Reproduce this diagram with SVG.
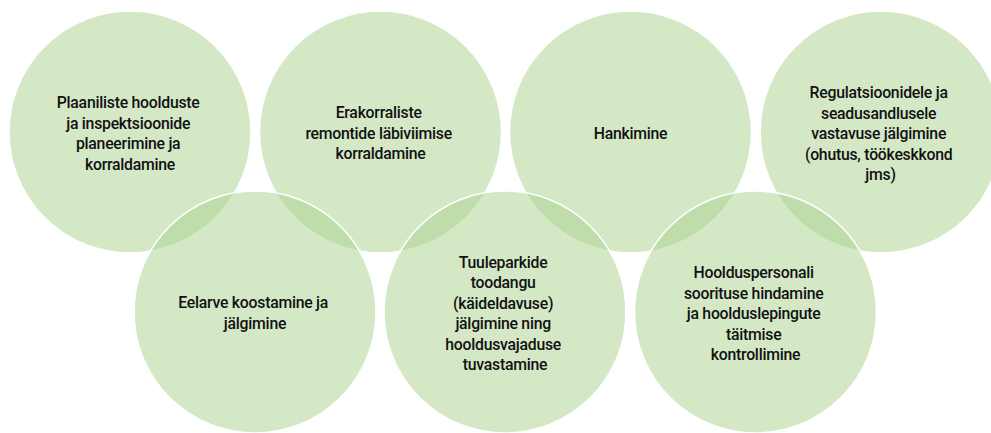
<svg xmlns="http://www.w3.org/2000/svg" width="991" height="433" viewBox="0 0 991 433">
  <style>
    .bubble { fill: #a9d18e; fill-opacity: 0.5; stroke: #ffffff; stroke-width: 1.5; }
    .label { font-family: Roboto, "Liberation Sans", sans-serif; font-weight: 500; font-size: 15.8px; letter-spacing: -0.25px; fill: #111111; text-anchor: middle; }
  </style>
  <rect width="991" height="433" fill="#ffffff"/>

  <!-- upper row -->
  <g id="planning">
    <circle class="bubble" cx="130" cy="132" r="121"/>
    <text class="label">
      <tspan x="130" y="108">Plaaniliste hoolduste</tspan>
      <tspan x="130" y="128.5">ja inspektsioonide</tspan>
      <tspan x="130" y="149">planeerimine ja</tspan>
      <tspan x="130" y="169.5">korraldamine</tspan>
    </text>
  </g>
  <g id="repairs">
    <circle class="bubble" cx="380.5" cy="132" r="121"/>
    <text class="label">
      <tspan x="380.5" y="118">Erakorraliste</tspan>
      <tspan x="380.5" y="138.5">remontide läbiviimise</tspan>
      <tspan x="380.5" y="159">korraldamine</tspan>
    </text>
  </g>
  <g id="procurement">
    <circle class="bubble" cx="630.5" cy="132" r="121"/>
    <text class="label">
      <tspan x="630.5" y="139">Hankimine</tspan>
    </text>
  </g>
  <g id="compliance">
    <circle class="bubble" cx="881" cy="132" r="121"/>
    <text class="label">
      <tspan x="880.5" y="98">Regulatsioonidele ja</tspan>
      <tspan x="880.5" y="118.5">seadusandlusele</tspan>
      <tspan x="880.5" y="139">vastavuse jälgimine</tspan>
      <tspan x="880.5" y="159.5">(ohutus, töökeskkond</tspan>
      <tspan x="880.5" y="180">jms)</tspan>
    </text>
  </g>

  <!-- lower row -->
  <g id="budget">
    <circle class="bubble" cx="255" cy="312" r="121"/>
    <text class="label">
      <tspan x="255" y="308">Eelarve koostamine ja</tspan>
      <tspan x="255" y="328.5">jälgimine</tspan>
    </text>
  </g>
  <g id="production">
    <circle class="bubble" cx="505" cy="312" r="121"/>
    <text class="label">
      <tspan x="505" y="267.5">Tuuleparkide</tspan>
      <tspan x="505" y="288">toodangu</tspan>
      <tspan x="505" y="308.5">(käideldavuse)</tspan>
      <tspan x="505" y="329">jälgimine ning</tspan>
      <tspan x="505" y="349.5">hooldusvajaduse</tspan>
      <tspan x="505" y="370">tuvastamine</tspan>
    </text>
  </g>
  <g id="personnel">
    <circle class="bubble" cx="755.5" cy="312" r="121"/>
    <text class="label">
      <tspan x="755.5" y="278">Hoolduspersonali</tspan>
      <tspan x="755.5" y="298.5">soorituse hindamine</tspan>
      <tspan x="755.5" y="319">ja hoolduslepingute</tspan>
      <tspan x="755.5" y="339.5">täitmise</tspan>
      <tspan x="755.5" y="360">kontrollimine</tspan>
    </text>
  </g>
</svg>
